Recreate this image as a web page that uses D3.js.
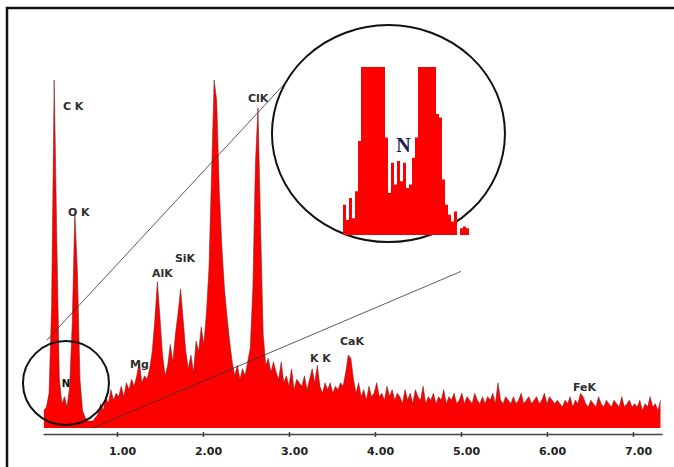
<html>
<style>
body { margin: 0; background: #fff; }
.axis text { font: bold 11px "DejaVu Sans", sans-serif; fill: #222; }
.axis path, .axis line { stroke: #444; }
.peak-label { font: bold 11px "DejaVu Sans", sans-serif; fill: #2e2e2e; }
</style>
<svg width="674" height="467"></svg>
<script src="https://d3js.org/d3.v7.min.js"></script>
<script>

// EDS spectrum, channels of 0.03 keV starting at 0.15 keV
var startEnergy = 0.15, channelWidth = 0.03;
var counts = [
  5, 6, 10, 35, 100, 55, 14, 7, 9, 6,
  12, 30, 62, 45, 14, 5, 3, 2, 2, 2,
  3, 4, 7, 5, 9, 7, 11, 8, 10, 9,
  12, 9, 13, 11, 14, 12, 15, 19, 13, 15,
  14, 17, 22, 31, 42, 32, 21, 15, 18, 24,
  19, 27, 33, 40, 31, 22, 17, 21, 16, 25,
  22, 29, 24, 33, 46, 73, 100, 94, 68, 52,
  40, 32, 25, 19, 15, 18, 14, 17, 15, 19,
  23, 40, 76, 92, 58, 27, 18, 20, 16, 19,
  16, 14, 19, 13, 15, 12, 17, 11, 14, 13,
  12, 15, 11, 14, 17, 13, 18, 12, 10, 13,
  11, 13, 10, 12, 11, 13, 12, 16, 21, 20,
  14, 10, 13, 9, 11, 8, 12, 9, 10, 13,
  9, 10, 8, 12, 9, 11, 8, 10, 9, 7,
  11, 8, 10, 7, 11, 9, 8, 12, 7, 9,
  8, 10, 7, 9, 8, 11, 7, 9, 8, 10,
  7, 8, 10, 7, 9, 8, 7, 10, 8, 7,
  9, 7, 9, 8, 10, 7, 13, 8, 7, 9,
  8, 7, 9, 7, 8, 10, 7, 8, 9, 7,
  8, 9, 7, 8, 10, 7, 9, 8, 7, 8,
  7, 6, 8, 7, 9, 6, 8, 7, 10, 9,
  7, 6, 8, 7, 6, 9, 7, 6, 8, 7,
  6, 8, 7, 6, 9, 6, 7, 8, 6, 7,
  6, 8, 5, 7, 6, 9, 6, 7, 5, 8
];

var tickValues = [1, 2, 3, 4, 5, 6, 7];

// element lines: name, energy (keV) and count where the text sits
var peakNames  = ["C K", "O K", "Mg", "AlK", "SiK", "ClK", "K K", "CaK", "FeK"];
var peakEnergy = [0.372, 0.43, 1.151, 1.407, 1.674, 2.523, 3.244, 3.593, 6.302];
var peakCount  = [91.4, 60.9, 17.2, 43.4, 47.7, 93.7, 19, 23.9, 10.6];

// magnified view of the C/O region (clipped at the top)
var insetCounts = [
  18, 9, 22, 10, 26, 56, 120, 120, 120, 120,
  120, 120, 120, 120, 58, 25, 43, 30, 44, 32,
  43, 28, 30, 46, 58, 120, 120, 120, 120, 120,
  120, 72, 70, 33, 18, 12, 8, 14, 0, 4,
  5, 4
];

var svg = d3.select("svg");

var xScale = d3.scaleLinear()
    .domain([0.14, 7.34])
    .range([43, 662.2]);

var yScale = d3.scaleLinear()
    .domain([0, 100])
    .range([428, 80]);

// frame
svg.append("rect")
    .attr("x", 7).attr("y", 8)
    .attr("width", 700).attr("height", 500)
    .style("fill", "none")
    .style("stroke", "#111")
    .style("stroke-width", 2.5);

var spectrum = counts.map((c, i) => ({e: startEnergy + i * channelWidth, c: c}));

var area = d3.area()
    .x(d => xScale(d.e))
    .y0(yScale(0))
    .y1(d => yScale(d.c));

var line = d3.line()
    .x(d => xScale(d.e))
    .y(d => yScale(d.c));

svg.append("path")
    .datum(spectrum)
    .attr("d", area)
    .style("fill", "#ff0000");

svg.append("path")
    .datum(spectrum)
    .attr("d", line)
    .style("fill", "none")
    .style("stroke", "#6b2828")
    .style("stroke-width", 0.7)
    .style("opacity", 0.8);

// axis
var axis = svg.append("g")
    .attr("class", "axis")
    .attr("transform", "translate(0,434)")
    .call(d3.axisBottom(xScale)
        .tickValues(tickValues)
        .tickFormat(d3.format(".2f"))
        .tickSizeInner(3)
        .tickSizeOuter(0)
        .tickPadding(10));
axis.select(".domain").style("stroke-width", 1.6);
axis.selectAll(".tick line").attr("y1", -2).attr("y2", 3).style("stroke-width", 1.5);
axis.selectAll(".tick text").attr("dx", 5);

// peak labels
svg.selectAll(".peak-label")
    .data(peakNames)
    .enter()
    .append("text")
    .attr("class", "peak-label")
    .attr("x", (d, i) => xScale(peakEnergy[i]))
    .attr("y", (d, i) => yScale(peakCount[i]))
    .text(d => d);

// zoom circles and connecting lines (anchored in data units)
var smallCenter = {e: 0.407, c: 12.9};
var bigCenter = {e: 4.157, c: 84.6};

svg.append("line")
    .attr("x1", xScale(0.183)).attr("y1", yScale(25.2))
    .attr("x2", xScale(3.012)).attr("y2", yScale(100.6))
    .style("stroke", "#333").style("stroke-width", 0.8);

svg.append("line")
    .attr("x1", xScale(0.72)).attr("y1", yScale(0))
    .attr("x2", xScale(5.0)).attr("y2", yScale(45))
    .style("stroke", "#333").style("stroke-width", 0.8);

svg.append("ellipse")
    .attr("cx", xScale(smallCenter.e)).attr("cy", yScale(smallCenter.c))
    .attr("rx", 43).attr("ry", 42)
    .style("fill", "none")
    .style("stroke", "#111")
    .style("stroke-width", 2);

svg.append("ellipse")
    .attr("cx", xScale(bigCenter.e)).attr("cy", yScale(bigCenter.c))
    .attr("rx", 116.5).attr("ry", 108.5)
    .style("fill", "#fff")
    .style("stroke", "#111")
    .style("stroke-width", 2);

svg.append("text")
    .attr("x", xScale(smallCenter.e)).attr("y", 387)
    .attr("text-anchor", "middle")
    .style("font", "bold 10px 'DejaVu Sans', sans-serif")
    .style("fill", "#111")
    .text("N");

// inset histogram
var insetX = d3.scaleLinear().domain([0, insetCounts.length]).range([343, 469]);
var insetY = d3.scaleLinear().domain([0, 100]).range([235, 67]).clamp(true);

var insetData = insetCounts.map((c, i) => ({i: i, c: c}));
insetData.push({i: insetCounts.length, c: insetCounts[insetCounts.length - 1]});

svg.append("path")
    .datum(insetData)
    .attr("d", d3.area()
        .curve(d3.curveStepAfter)
        .x(d => insetX(d.i))
        .y0(insetY(0))
        .y1(d => insetY(d.c)))
    .style("fill", "#ff0000");

svg.append("text")
    .attr("x", 403.5).attr("y", 152)
    .attr("text-anchor", "middle")
    .style("font", "bold 20px 'Liberation Serif', serif")
    .style("fill", "#1a2050")
    .text("N");

</script>
</html>
